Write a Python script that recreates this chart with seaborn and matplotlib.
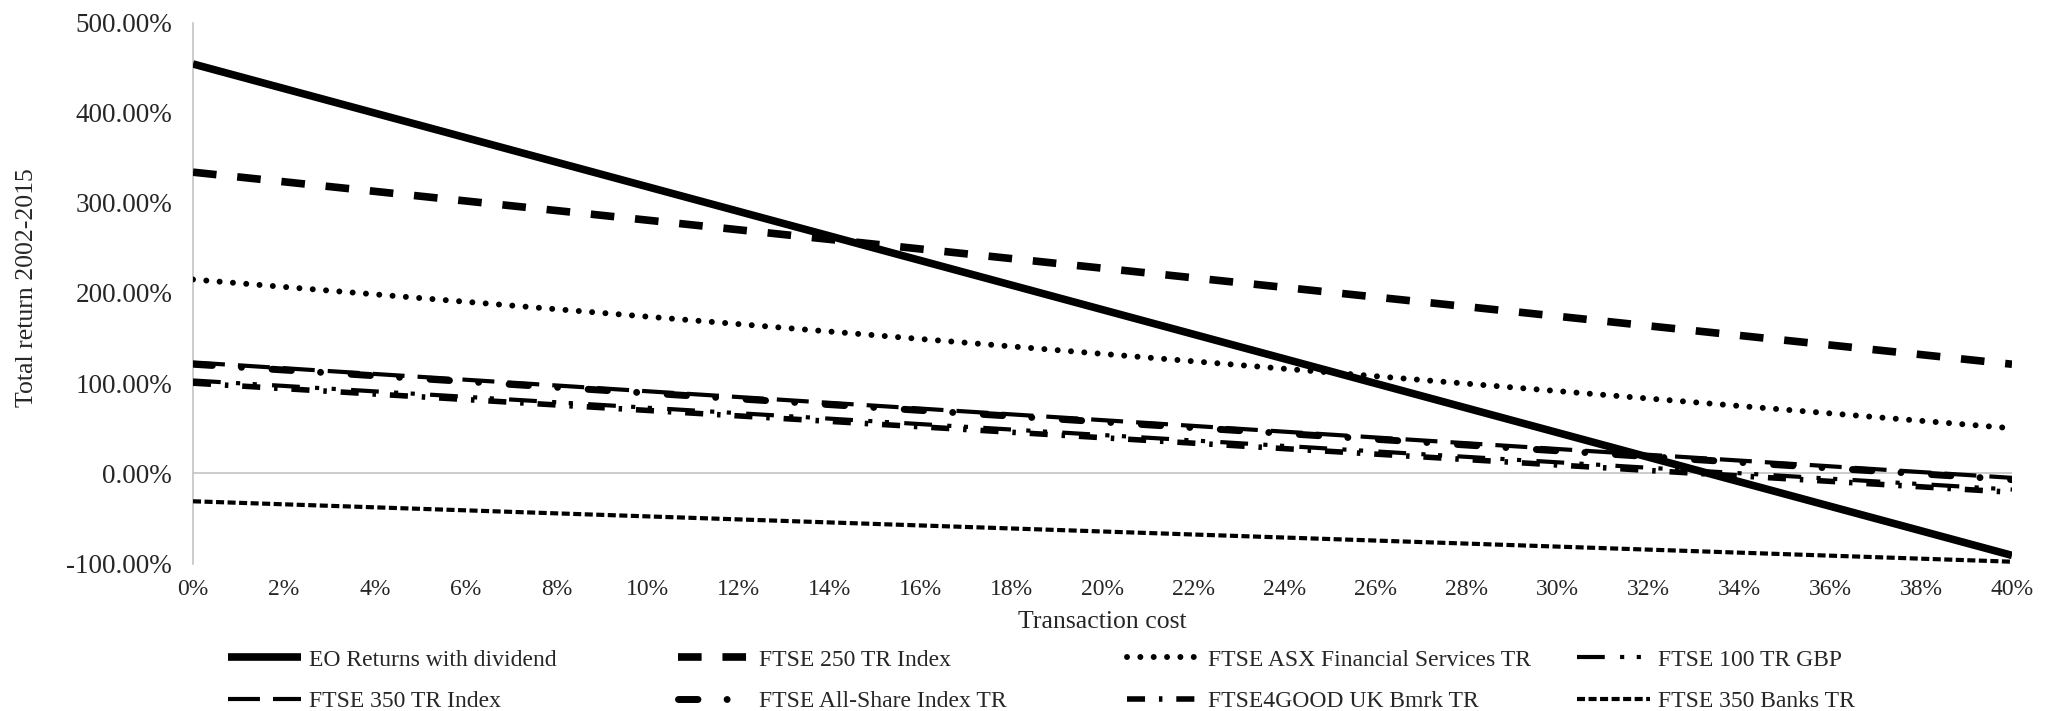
import matplotlib
matplotlib.use("Agg")
import matplotlib.pyplot as plt
import seaborn as sns
import pandas as pd
import numpy as np

# ---- data ----
transaction_cost = [0, 40]  # percent
eo_returns = [454, -91]
ftse_250 = [334, 121]
ftse_asx_fin = [215, 50]
ftse_100 = [103, -18]
ftse_350 = [123, -5]
ftse_all_share = [121, -7]
ftse4good = [100, -21]
ftse_350_banks = [-31, -98]

series_names = [
    "EO Returns with dividend", "FTSE 250 TR Index", "FTSE ASX Financial Services TR",
    "FTSE 100 TR GBP", "FTSE 350 TR Index", "FTSE All-Share Index TR",
    "FTSE4GOOD UK Bmrk TR", "FTSE 350 Banks TR",
]
series_values = [eo_returns, ftse_250, ftse_asx_fin, ftse_100, ftse_350,
                 ftse_all_share, ftse4good, ftse_350_banks]
x_ticks = list(range(0, 41, 2))
y_ticks = [-100, 0, 100, 200, 300, 400, 500]

df = pd.DataFrame([
    {"cost": c, "ret": v, "series": n}
    for n, vals in zip(series_names, series_values)
    for c, v in zip(transaction_cost, vals)
])

# ---- styles ----
styles = {
    "EO Returns with dividend": dict(lw=5.5, ls="-", cap="butt"),
    "FTSE 250 TR Index": dict(lw=5.5, ls=(0, (17, 15)), cap="butt"),
    "FTSE ASX Financial Services TR": dict(lw=4.3, ls=(0, (0.01, 9.6)), cap="round"),
    "FTSE 100 TR GBP": dict(lw=3.0, ls=(0, (20, 11, 3, 9, 3, 11)), cap="butt"),
    "FTSE 350 TR Index": dict(lw=3.0, ls=(0, (23, 9.4)), cap="butt"),
    "FTSE All-Share Index TR": dict(lw=5.0, ls=(0, (14, 21, 0.01, 22)), cap="round"),
    "FTSE4GOOD UK Bmrk TR": dict(lw=4.0, ls=(0, (13, 10, 2.5, 10)), cap="butt"),
    "FTSE 350 Banks TR": dict(lw=3.0, ls=(0, (5.8, 2.5)), cap="butt"),
}

sns.set_style("white")
plt.rcParams["font.family"] = ["Liberation Serif", "DejaVu Serif"]
plt.rcParams["lines.scale_dashes"] = False

fig = plt.figure(figsize=(20.56, 7.11), dpi=100)
ax = fig.add_axes([193 / 2056, 1 - 563.5 / 711, (2012 - 193) / 2056, (563.5 - 22.5) / 711])

handles = {}
for name in series_names:
    st = styles[name]
    sub = df[df["series"] == name]
    sns.lineplot(data=sub, x="cost", y="ret", ax=ax, color="black", linewidth=st["lw"],
                 linestyle=st["ls"], dash_capstyle=st["cap"], solid_capstyle="butt",
                 errorbar=None, label=name, legend=False, zorder=3)
    handles[name] = ax.lines[-1]
if ax.get_legend() is not None:
    ax.get_legend().remove()

ax.axhline(0, color="#BFBFBF", lw=1.1, zorder=1)
ax.set_xlim(0, 40)
ax.set_ylim(-100, 500)
ax.set_xticks(x_ticks)
ax.set_xticklabels([f"{t}%" for t in x_ticks])
ax.set_yticks(y_ticks)
ax.set_yticklabels([f"{t:.2f}%" for t in y_ticks])
ax.tick_params(axis="x", length=0, pad=11, labelsize=17)
ax.tick_params(axis="y", length=0, pad=15, labelsize=19.5)
for s in ["top", "right", "bottom"]:
    ax.spines[s].set_visible(False)
ax.spines["left"].set_color("#BFBFBF")
ax.spines["left"].set_linewidth(1.1)
ax.grid(False)

ax.set_xlabel("Transaction cost", fontsize=18.5)
ax.set_ylabel("Total return 2002-2015", fontsize=18.5)
ax.xaxis.set_label_coords(0.5, (563.5 - 611) / 541)
ax.yaxis.set_label_coords((38 - 193) / 1819, 0.51)

# legend: 4 columns x 2 rows, fixed column positions
columns = [
    ("EO Returns with dividend", "FTSE 350 TR Index"),
    ("FTSE 250 TR Index", "FTSE All-Share Index TR"),
    ("FTSE ASX Financial Services TR", "FTSE4GOOD UK Bmrk TR"),
    ("FTSE 100 TR GBP", "FTSE 350 Banks TR"),
]
col_x = [228, 678, 1127, 1577]
for cx, names in zip(col_x, columns):
    leg = fig.legend([handles[n] for n in names], list(names), loc="upper left",
                     bbox_to_anchor=(cx / 2056, 1 - 649 / 711), frameon=False,
                     fontsize=17, handlelength=3.1, handletextpad=0.35,
                     labelspacing=0.85, borderpad=0, borderaxespad=0)

fig.savefig("out.png", dpi=100)
